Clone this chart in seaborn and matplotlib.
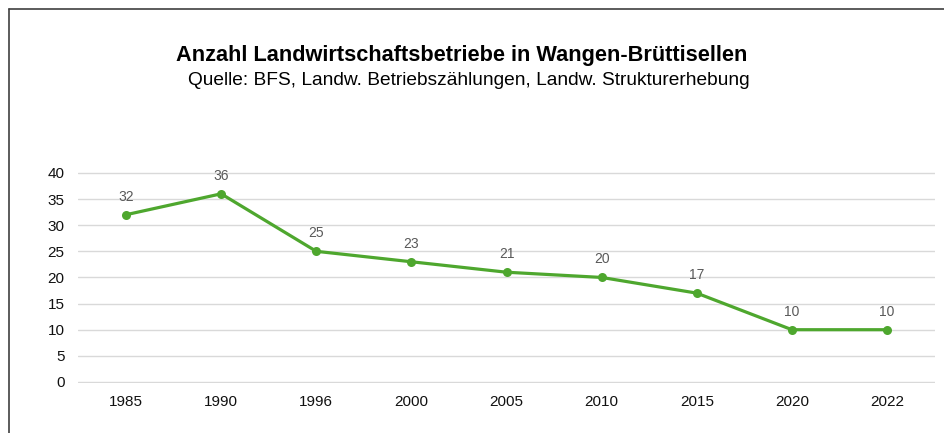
import matplotlib
matplotlib.use("Agg")
import matplotlib.pyplot as plt
import seaborn as sns
import pandas as pd

years = ["1985", "1990", "1996", "2000", "2005", "2010", "2015", "2020", "2022"]
betriebe = [32, 36, 25, 23, 21, 20, 17, 10, 10]

title = "Anzahl Landwirtschaftsbetriebe in Wangen-Brüttisellen"
subtitle = "Quelle: BFS, Landw. Betriebszählungen, Landw. Strukturerhebung"

green = "#4ea72e"


def plot_betriebe(df: pd.DataFrame):
    sns.set_theme(style="white")
    plt.rcParams['font.family'] = ['Liberation Sans', 'DejaVu Sans']

    fig = plt.figure(figsize=(9.45, 4.33), dpi=100)
    ax = fig.add_axes([0.083, 0.116, 0.906, 0.4865])

    sns.lineplot(x=range(len(df)), y=df['n'], ax=ax, color=green, linewidth=2.3,
                 marker='o', markersize=6.5, markeredgewidth=0)

    for i, v in enumerate(df['n']):
        ax.annotate(str(v), (i, v), xytext=(0, 8), textcoords='offset points',
                    ha='center', va='bottom', fontsize=10, color='#595959')

    ax.set_xlim(-0.5, len(df) - 0.5)
    ax.set_ylim(-0.15, 40.15)
    ax.set_yticks(range(0, 41, 5))
    ax.set_xticks(range(len(df)))
    ax.set_xticklabels(df['year'])
    ax.tick_params(axis='both', length=0, labelsize=11, colors='#111111')
    ax.tick_params(axis='x', pad=9)
    ax.tick_params(axis='y', pad=10)
    ax.yaxis.grid(True, color='#d9d9d9', linewidth=1)
    ax.set_axisbelow(True)
    ax.set_xlabel('')
    ax.set_ylabel('')
    for s in ax.spines.values():
        s.set_visible(False)

    fig.text(0.489, 0.872, title, ha='center', va='center', fontsize=15.7,
             fontweight='bold', color='black')
    fig.text(0.496, 0.813, subtitle, ha='center', va='center', fontsize=13.8, color='black')

    # outer frame (left and top edges are visible in the reference)
    fig.add_artist(plt.Line2D([0.0095, 0.0095], [0, 0.98], color='#404040', linewidth=1.2,
                              transform=fig.transFigure))
    fig.add_artist(plt.Line2D([0.0095, 1.0], [0.98, 0.98], color='#404040', linewidth=1.2,
                              transform=fig.transFigure))

    fig.savefig('out.png', dpi=100)


if __name__ == "__main__":
    df = pd.DataFrame({'year': years, 'n': betriebe})
    plot_betriebe(df)
